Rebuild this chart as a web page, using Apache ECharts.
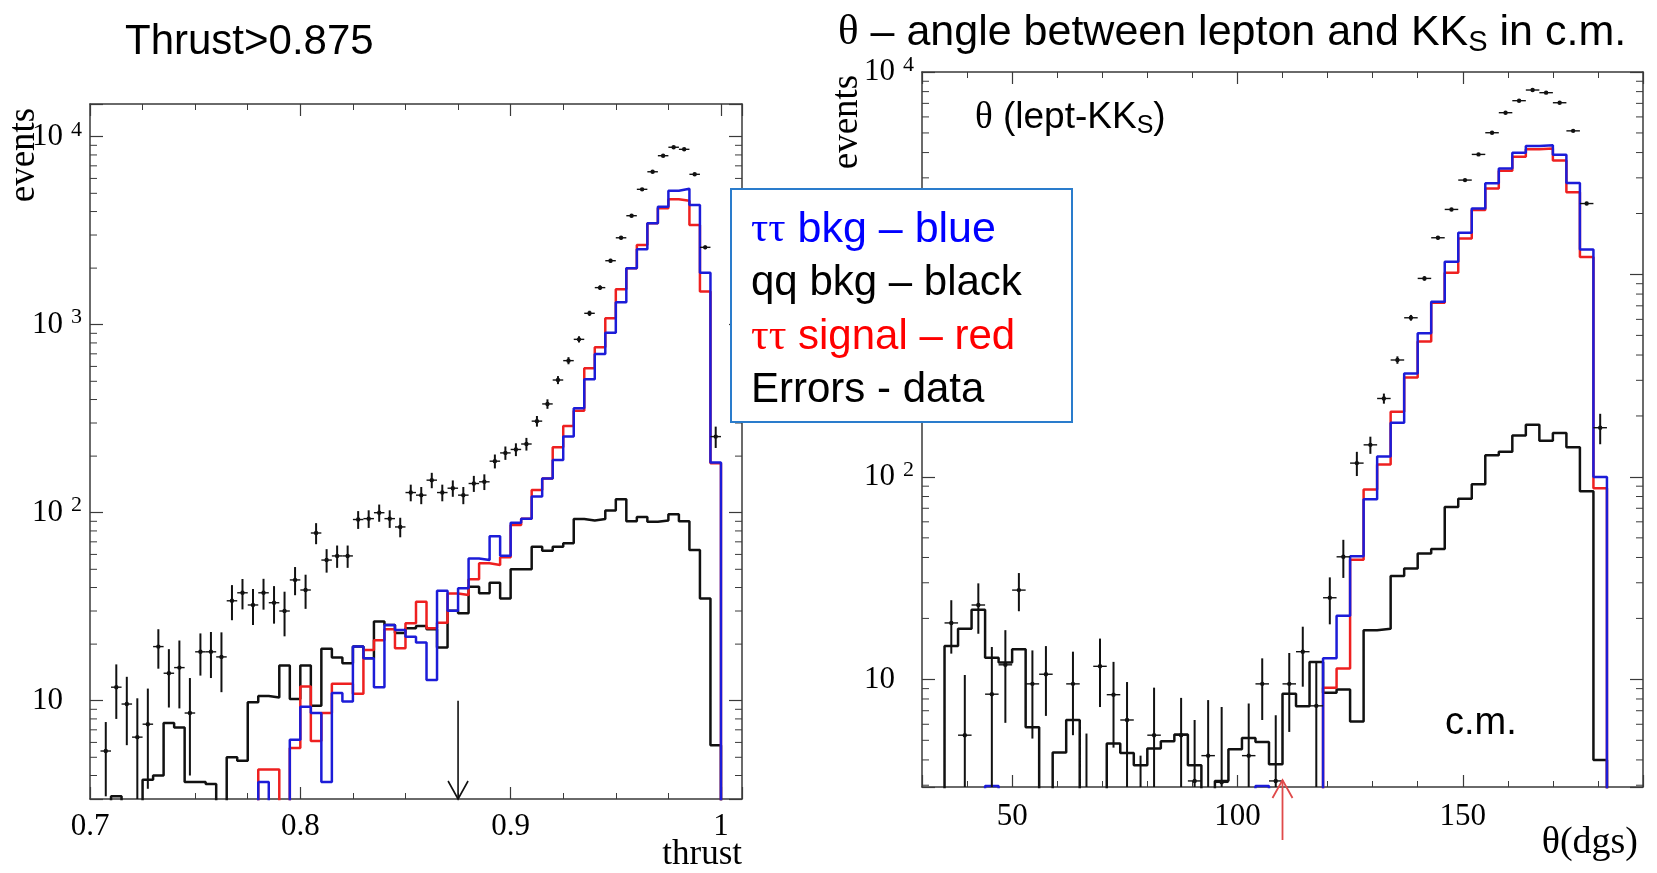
<!DOCTYPE html>
<html lang="en">
<head>
<meta charset="UTF-8" />
<title>Thrust and theta distributions</title>
<script src="https://cdn.jsdelivr.net/npm/echarts@6.0.0/dist/echarts.min.js"></script>
<style>
  html, body { margin: 0; padding: 0; background: #fff; }
  #main { width: 1657px; height: 873px; }
</style>
</head>
<body>
<div id="main"></div>
<script>
// left panel: thrust, bins of 0.005 starting at 0.7
const thrustStart = 0.7;
const thrustBin = 0.005;
const thrustData = [0, 5.4, 11.8, 9.6, 6.4, 7.5, 19.4, 14, 15, 8.6,
  18.2, 18.2, 17.1, 34, 37.5, 32.3, 37.5, 33.2, 30, 43.9,
  38.8, 78, 56, 58.9, 58.9, 92, 93, 100, 93, 84,
  128, 124, 149, 128, 135, 124, 143, 146, 188, 208,
  217, 232, 307, 379, 508, 644, 836, 1150, 1575, 2190,
  2900, 3800, 5250, 6510, 7925, 8790, 8570, 6310, 2580, 254];
const thrustDataErr = [0, 2.3, 3.8, 3.8, 3.9, 4.1, 4.6, 4.8, 5.9, 4.6,
  4.6, 5, 6, 7.2, 6.9, 7, 7, 7.5, 8, 7.5,
  8, 10, 8, 8, 8, 10, 10, 10.5, 10, 10,
  13, 13, 14, 13, 13.5, 13, 14, 14, 16, 17,
  17, 18, 20, 22, 25, 28, 32, 37, 43, 50,
  58, 66, 78, 86, 95, 100, 99, 85, 56, 33];
const thrustQQ = [0, 0, 3.1, 0, 0, 3.8, 4.0, 7.6, 7.2, 3.7,
  3.7, 3.6, 0, 5.0, 4.8, 9.8, 10.6, 10.4, 15.4, 10.2,
  15.4, 9.4, 18.9, 17, 15.8, 19.4, 16.8, 26.4, 25.3, 22.9,
  24.3, 25, 24, 19.2, 30.1, 29.2, 40.4, 37.3, 42.4, 35,
  50, 50, 66, 62.8, 66, 68.7, 92.5, 91, 92.5, 102.6,
  118, 90, 95, 89.6, 91, 98, 90, 63.4, 35, 5.8];
const thrustSignal = [0, 0, 0, 0, 0, 0, 0, 0, 0, 0,
  0, 0, 0, 0, 0, 0, 4.3, 4.3, 0, 5.6,
  11.9, 6.1, 8.6, 12.3, 12.3, 10.9, 18.6, 21, 24, 19,
  25.8, 33.6, 24.3, 26, 37.2, 36.5, 44.3, 53.8, 52.7, 58,
  86, 93, 132, 152, 223, 289, 349, 586, 758, 1082,
  1543, 1996, 2655, 3462, 4160, 4645, 4570, 3390, 1500, 183];
const thrustTauBkg = [0, 0, 0, 0, 0, 0, 0, 0, 0, 0,
  0, 0, 0, 0, 0, 0, 3.7, 0, 0, 6.2,
  9.3, 8.6, 3.7, 11, 9.9, 19.4, 16.8, 11.8, 25.3, 23.8,
  21.9, 20.4, 12.9, 38.4, 30.1, 39.6, 57, 56, 75, 59,
  88.5, 93, 122, 152, 191, 254, 359, 512, 698, 907,
  1316, 1996, 2518, 3462, 4246, 5166, 5293, 4335, 1892, 185];
const thrustCut = 0.875;

// right panel: theta (degrees), bins of 3 starting at 35
const thetaStart = 35;
const thetaBin = 3;
const thetaData = [19, 5.3, 23.3, 8.45, 11.8, 27.6, 9.5, 10.6, 0, 9.5,
  2.7, 11.6, 8.4, 6.3, 2.2, 5.3, 0, 5.3, 3.15, 4.2,
  3.1, 0, 4.2, 9.5, 3.15, 9.5, 13.7, 7.4, 25.3, 40.3,
  117, 144, 244, 378, 611, 956, 1518, 2095, 2925, 3917,
  5012, 6295, 7217, 8147, 7905, 7050, 5120, 2240, 175];
const thetaDataErr = [5.6, 5.2, 6.5, 6, 5.7, 5.9, 4.4, 4, 0, 4.2,
  2.7, 4.3, 3.8, 3.4, 2.0, 3.8, 0, 2.8, 3.15, 3.7,
  4.2, 0, 3.4, 3.2, 3.5, 4, 4.5, 4.8, 6.6, 8.6,
  16, 14, 14, 16, 20, 25, 30, 35, 40, 45,
  50, 55, 60, 65, 65, 60, 50, 35, 30];
const thetaQQ = [14.6, 17.8, 22.1, 12.8, 12.1, 14.1, 5.8, 0, 4.35, 6.3,
  0, 0, 4.82, 4.33, 3.77, 4.55, 4.95, 5.34, 3.77, 0,
  3.15, 4.52, 5.14, 4.91, 3.81, 8.5, 7.37, 12.2, 8.6, 8.9,
  6.2, 17.5, 17.8, 32.4, 35.3, 41.9, 44, 71, 78, 92,
  128, 133, 160, 181, 151, 165, 140, 85, 4];
const thetaSignal = [0, 0, 0, 0, 0, 0, 0, 0, 0, 0,
  0, 0, 0, 0, 0, 0, 0, 0, 0, 0,
  0, 0, 0, 0, 0, 0, 0, 0, 9.1, 11.3,
  39, 86.7, 115, 210, 310, 466, 725, 1020, 1507, 2080,
  2661, 3252, 3817, 4150, 4190, 3650, 2550, 1220, 88];
const thetaTauBkg = [0, 0, 0, 2.97, 0, 0, 0, 0, 0, 0,
  0, 0, 0, 0, 0, 0, 0, 0, 0, 0,
  0, 0, 0, 2.97, 0, 0, 0, 0, 12.7, 20.6,
  40.6, 77.5, 126, 185, 324, 512, 733, 1156, 1607, 2119,
  2818, 3341, 3993, 4305, 4350, 3900, 2830, 1330, 100];
const thetaCut = 110;

const SERIF = '"Liberation Serif", "DejaVu Serif", serif';
const SANS = '"Liberation Sans", Arial, sans-serif';
const BLUE = '#1c1cd8';
const RED = '#ee2020';
const BLACK = '#111111';
const FRAME = '#3a3a3a';

// histogram outline as a step path; empty bins drop below the axis and get clipped
function steps(start, width, vals) {
  const floor = 1;
  const pts = [[start, floor]];
  vals.forEach((v, i) => {
    const y = v > 0 ? v : floor;
    pts.push([start + i * width, y], [start + (i + 1) * width, y]);
  });
  pts.push([start + vals.length * width, floor]);
  return pts;
}

function points(start, width, vals, errs) {
  return vals.map((v, i) => [start + (i + 0.5) * width, v, errs[i]]).filter(d => d[1] > 0);
}

function histLine(idx, pts, color, z) {
  return {
    type: 'line', xAxisIndex: idx, yAxisIndex: idx, data: pts, z: z,
    showSymbol: false, symbol: 'none', silent: true, clip: true,
    lineStyle: { color: color, width: 2.5 }
  };
}

function pointSeries(idx, pts, halfW) {
  return {
    type: 'custom', xAxisIndex: idx, yAxisIndex: idx, data: pts, clip: true, silent: true, z: 6,
    renderItem: (params, api) => {
      const x = api.value(0), v = api.value(1), e = api.value(2);
      const l = api.coord([x - halfW, v]);
      const r = api.coord([x + halfW, v]);
      const t = api.coord([x, v + e]);
      const b = api.coord([x, Math.max(v - e, 0.3)]);
      return {
        type: 'group', children: [
          { type: 'line', shape: { x1: l[0], y1: l[1], x2: r[0], y2: r[1] }, style: { stroke: BLACK, lineWidth: 1.4 } },
          { type: 'line', shape: { x1: t[0], y1: t[1], x2: b[0], y2: b[1] }, style: { stroke: BLACK, lineWidth: 2 } },
          { type: 'circle', shape: { cx: (l[0] + r[0]) / 2, cy: l[1], r: 2.2 }, style: { fill: BLACK } }
        ]
      };
    }
  };
}

function minorLogTicks(idx, lo, hi, xAny) {
  const vals = [];
  for (let e = 0; e < 5; e++) {
    for (let m = 2; m < 10; m++) {
      const v = m * Math.pow(10, e);
      if (v > lo && v < hi) vals.push([xAny, v]);
    }
  }
  return {
    type: 'custom', xAxisIndex: idx, yAxisIndex: idx, data: vals, clip: false, silent: true, z: 4,
    renderItem: (params, api) => {
      const cs = params.coordSys;
      const y = api.coord([xAny, api.value(1)])[1];
      const st = { stroke: FRAME, lineWidth: 1 };
      return {
        type: 'group', children: [
          { type: 'line', shape: { x1: cs.x, y1: y, x2: cs.x + 7, y2: y }, style: st },
          { type: 'line', shape: { x1: cs.x + cs.width - 7, y1: y, x2: cs.x + cs.width, y2: y }, style: st }
        ]
      };
    }
  };
}

function logLabel(v) {
  const e = Math.round(Math.log10(v));
  if (Math.abs(v / Math.pow(10, e) - 1) > 1e-6) return '';
  return e === 1 ? '{b|10}{h|2}' : '{b|10}{s|' + e + '}';
}
const logRich = {
  b: { fontFamily: SERIF, fontSize: 31, lineHeight: 36, color: '#000' },
  s: { fontFamily: SERIF, fontSize: 22, lineHeight: 17, verticalAlign: 'top', padding: [0, 0, 0, 8], color: '#000' },
  h: { fontFamily: SERIF, fontSize: 22, lineHeight: 17, verticalAlign: 'top', padding: [0, 0, 0, 8], color: 'rgba(0,0,0,0)' }
};

const lineSt = { show: true, onZero: false, lineStyle: { color: FRAME, width: 1.5 } };

function xPair(grid, min, max, split, minorSplit, fmt, margin) {
  const base = {
    type: 'value', gridIndex: grid, min: min, max: max, splitNumber: split,
    axisLine: lineSt, splitLine: { show: false },
    axisTick: { show: true, inside: true, length: 12, lineStyle: { color: FRAME, width: 1.2 } },
    minorTick: { show: true, splitNumber: minorSplit, length: 6, lineStyle: { color: FRAME, width: 1 } }
  };
  return [
    Object.assign({}, base, { position: 'bottom', axisLabel: { formatter: fmt, margin: margin, color: '#000', fontFamily: SERIF, fontSize: 31 } }),
    Object.assign({}, base, { position: 'top', axisLabel: { show: false } })
  ];
}

function yPair(grid, min, max) {
  const base = {
    type: 'log', logBase: 10, gridIndex: grid, min: min, max: max,
    axisLine: lineSt, splitLine: { show: false },
    axisTick: { show: true, inside: true, length: 13, lineStyle: { color: FRAME, width: 1.2 } }
  };
  return [
    Object.assign({}, base, { position: 'left', axisLabel: { formatter: logLabel, rich: logRich, margin: 8 } }),
    Object.assign({}, base, { position: 'right', axisLabel: { show: false } })
  ];
}

const thrustFmt = v => Math.abs(v * 10 - Math.round(v * 10)) < 1e-6 ? String(+v.toFixed(1)) : '';
const thetaFmt = v => Math.abs(v % 50) < 1e-6 ? String(v) : '';

const chart = echarts.init(document.getElementById('main'));

const option = {
  animation: false,
  backgroundColor: '#fff',
  grid: [
    { left: 90, top: 104, width: 652, height: 695 },
    { left: 922, top: 72, width: 721, height: 715 }
  ],
  xAxis: [].concat(
    xPair(0, 0.7, 1.01, 3, 4, thrustFmt, 12),
    xPair(1, 30, 190, 3, 5, thetaFmt, 14)
  ),
  yAxis: [].concat(
    yPair(0, 3, 14930),
    yPair(1, 2.94, 10000)
  ),
  series: [
    minorLogTicks(0, 3, 14930, 0.8),
    minorLogTicks(2, 2.94, 10000, 100),
    histLine(0, steps(thrustStart, thrustBin, thrustQQ), BLACK, 2),
    histLine(0, steps(thrustStart, thrustBin, thrustSignal), RED, 3),
    histLine(0, steps(thrustStart, thrustBin, thrustTauBkg), BLUE, 4),
    pointSeries(0, points(thrustStart, thrustBin, thrustData, thrustDataErr), thrustBin / 2),
    histLine(2, steps(thetaStart, thetaBin, thetaQQ), BLACK, 2),
    histLine(2, steps(thetaStart, thetaBin, thetaSignal), RED, 3),
    histLine(2, steps(thetaStart, thetaBin, thetaTauBkg), BLUE, 4),
    pointSeries(2, points(thetaStart, thetaBin, thetaData, thetaDataErr), thetaBin / 2),
    {
      // cut arrow on the thrust panel
      type: 'custom', xAxisIndex: 0, yAxisIndex: 0, data: [[thrustCut, 10]], clip: false, silent: true, z: 7,
      renderItem: (params, api) => {
        const top = api.coord([api.value(0), api.value(1)]);
        const bot = api.coord([api.value(0), 3]);
        const st = { stroke: BLACK, lineWidth: 1.6, fill: null };
        return {
          type: 'group', children: [
            { type: 'line', shape: { x1: top[0], y1: top[1], x2: bot[0], y2: bot[1] }, style: st },
            { type: 'polyline', shape: { points: [[bot[0] - 10, bot[1] - 18], [bot[0], bot[1]], [bot[0] + 10, bot[1] - 18]] }, style: st }
          ]
        };
      }
    },
    {
      // cut arrow under the theta panel
      type: 'custom', xAxisIndex: 2, yAxisIndex: 2, data: [[thetaCut, 2.94]], clip: false, silent: true, z: 7,
      renderItem: (params, api) => {
        const p = api.coord([api.value(0), api.value(1)]);
        const tipY = p[1] - 7;
        const st = { stroke: '#e04a4a', lineWidth: 1.8, fill: null };
        return {
          type: 'group', children: [
            { type: 'line', shape: { x1: p[0], y1: tipY, x2: p[0], y2: tipY + 60 }, style: st },
            { type: 'polyline', shape: { points: [[p[0] - 10, tipY + 18], [p[0], tipY], [p[0] + 10, tipY + 18]] }, style: st }
          ]
        };
      }
    }
  ],
  graphic: [
    { type: 'text', x: 125, y: 42, z: 50, style: { text: 'Thrust>0.875', font: '42px ' + SANS, fill: '#000', verticalAlign: 'middle' } },
    {
      type: 'text', x: 838, y: 33, z: 50,
      style: {
        text: '{th|θ} – angle between lepton and KK{sub|S} in c.m.', font: '43px ' + SANS, fill: '#000',
        verticalAlign: 'middle', lineHeight: 48,
        rich: {
          th: { fontFamily: SERIF, fontSize: 43, lineHeight: 48, fill: '#000' },
          sub: { fontFamily: SANS, fontSize: 29, lineHeight: 29, verticalAlign: 'bottom', fill: '#000' }
        }
      }
    },
    {
      type: 'text', x: 975, y: 118, z: 50,
      style: {
        text: '{th|θ} (lept-KK{sub|S})', font: '37px ' + SANS, fill: '#000',
        verticalAlign: 'middle', lineHeight: 42,
        rich: {
          th: { fontFamily: SERIF, fontSize: 37, lineHeight: 42, fill: '#000' },
          sub: { fontFamily: SANS, fontSize: 25, lineHeight: 25, verticalAlign: 'bottom', fill: '#000' }
        }
      }
    },
    { type: 'text', x: 1445, y: 724, z: 50, style: { text: 'c.m.', font: '38px ' + SANS, fill: '#000', verticalAlign: 'middle' } },
    { type: 'text', x: 24, y: 155, rotation: Math.PI / 2, z: 50, style: { text: 'events', font: '37px ' + SERIF, fill: '#000', align: 'center', verticalAlign: 'middle' } },
    { type: 'text', x: 847, y: 122, rotation: Math.PI / 2, z: 50, style: { text: 'events', font: '37px ' + SERIF, fill: '#000', align: 'center', verticalAlign: 'middle' } },
    { type: 'text', x: 742, y: 855, z: 50, style: { text: 'thrust', font: '35px ' + SERIF, fill: '#000', align: 'right', verticalAlign: 'middle' } },
    { type: 'text', x: 1638, y: 843, z: 50, style: { text: 'θ(dgs)', font: '38px ' + SERIF, fill: '#000', align: 'right', verticalAlign: 'middle' } },
    { type: 'rect', z: 60, shape: { x: 731, y: 189, width: 341, height: 233 }, style: { fill: '#fff', stroke: '#2a7ccc', lineWidth: 2 } },
    {
      type: 'text', x: 751, y: 230, z: 61,
      style: { text: '{t|ττ} bkg – blue', font: '43px ' + SANS, fill: '#0000ff', verticalAlign: 'middle', rich: { t: { fontFamily: SERIF, fontSize: 43, fill: '#0000ff' } } }
    },
    { type: 'text', x: 751, y: 283, z: 61, style: { text: 'qq bkg – black', font: '42px ' + SANS, fill: '#000', verticalAlign: 'middle' } },
    {
      type: 'text', x: 751, y: 337, z: 61,
      style: { text: '{t|ττ} signal – red', font: '42px ' + SANS, fill: '#ff0000', verticalAlign: 'middle', rich: { t: { fontFamily: SERIF, fontSize: 44, fill: '#ff0000' } } }
    },
    { type: 'text', x: 751, y: 390, z: 61, style: { text: 'Errors - data', font: '42px ' + SANS, fill: '#000', verticalAlign: 'middle' } }
  ]
};

chart.setOption(option);
</script>
</body>
</html>
